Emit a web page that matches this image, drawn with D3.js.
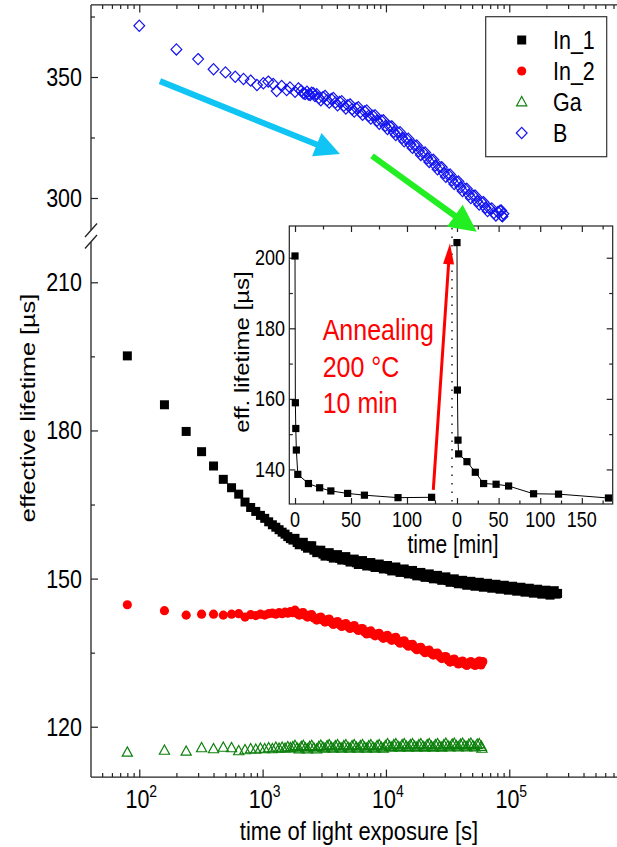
<!DOCTYPE html>
<html>
<head>
<meta charset="utf-8">
<script src="https://cdn.jsdelivr.net/npm/d3@7"></script>
<style>
  body { margin: 0; background: #fff; }
  svg { font-family: "Liberation Sans", Arial, sans-serif; }
</style>
</head>
<body>
<div id="chart"></div>
<script>
// ---- data: [time of light exposure (s), lifetime (us)] ----
const in1 = [[80,195.1],[160,185.2],[240,179.8],[320,175.7],[400,172.8],[480,170.1],[560,168.4],[640,167.1],[720,165.5],[800,164.4],[880,163.6],[960,162.8],[1040,162.2],[1120,161.5],[1200,160.9],[1280,160.4],[1360,159.9],[1440,159.4],[1520,159.0],[1600,158.5],[1680,158.1],[1760,157.8],
  [1831,158.15],[1904,157.3],[1981,156.85],[2060,157.3],[2138,157.35],[2223,156.55],[2313,156.15],[2405,156.6],[2502,156.65],[2602,155.75],[2747,155.25],[2857,155.7],[2965,155.75],[3084,154.95],[3207,154.55],[3335,155.1],[3468,155.25],[3607,154.5],[3745,154.15],[3895,154.7],[4051,154.85],[4213,154.1],[4380,153.75],[4555,154.3],[4730,154.45],[4919,153.7],[5114,153.35],[5318,153.85],[5533,153.95],[5754,153.2],[5973,152.85],[6212,153.45],[6460,153.65],[6718,152.9],[6986,152.55],[7265,153.1],[7541,153.25],[7843,152.55],[8155,152.25],[8481,152.8],[8821,152.95],[9174,152.25],[9526,151.95],[9907,152.5],[10300,152.65],[10710,151.9],[11140,151.55],[11590,152.15],[12030,152.35],[12510,151.6],[13010,151.25],[13530,151.8],[14070,151.95],[14630,151.25],[15190,150.95],[15800,151.5],[16430,151.65],[17090,150.9],[17780,150.55],[18490,151.1],[19190,151.25],[19960,150.55],[20760,150.25],[21590,150.8],[22450,150.95],[23350,150.25],[24240,149.95],[25210,150.5],[26220,150.65],[27270,149.95],[28360,149.65],[29490,150.2],[30610,150.35],[31830,149.6],[33110,149.25],[34430,149.8],[35810,149.95],[37240,149.25],[38660,148.95],[40210,149.5],[41810,149.65],[43480,148.95],[45220,148.65],[47030,149.25],[48830,149.45],[50780,148.75],[52800,148.45],[54910,149.05],[57110,149.25],[59390,148.55],[61660,148.25],[64130,148.85],[66690,149.05],[69360,148.35],[72130,148.05],[75020,148.65],[77880,148.85],[81000,148.15],[84230,147.85],[87600,148.45],[91100,148.65],[94740,147.95],[98330,147.65],[102300,148.25],[106400,148.45],[110700,147.75],[115000,147.45],[119600,148.05],[124200,148.25],[129200,147.55],[134300,147.25],[139700,147.85],[145300,148.05],[151100,147.35],[156900,147.05],[163200,147.65],[169600,147.85],[176400,147.15],[183500,146.85],[190800,147.45],[198100,147.65],[206000,146.95],[214200,146.65],[222800,147.3],[231700,147.55],[240000,146.85],[246400,147.0]];

const in2 = [[80,144.7],[160,143.5],[240,142.6],[320,142.8],[400,142.8],[480,142.6],[560,142.8],[640,142.9],[720,142.2],[800,142.7],[880,142.5],[960,142.8],[1040,142.6],[1120,142.9],[1200,143.0],[1280,142.8],[1360,143.1],[1440,142.9],[1520,143.2],[1600,143.0],[1680,143.3],[1760,143.1],
  [1831,143.6],[1904,142.95],[1981,142.6],[2060,143.0],[2138,143.1],[2223,142.5],[2313,142.2],[2405,142.6],[2502,142.7],[2602,142.0],[2747,141.6],[2857,142.05],[2965,142.2],[3084,141.55],[3207,141.2],[3335,141.65],[3468,141.8],[3607,141.1],[3745,140.7],[3895,141.15],[4051,141.3],[4213,140.65],[4380,140.3],[4555,140.75],[4730,140.9],[4919,140.25],[5114,139.9],[5318,140.35],[5533,140.5],[5754,139.85],[5973,139.5],[6212,139.85],[6460,139.9],[6718,139.2],[6986,138.8],[7265,139.25],[7541,139.4],[7843,138.75],[8155,138.4],[8481,138.8],[8821,138.9],[9174,138.25],[9526,137.9],[9907,138.35],[10300,138.5],[10710,137.85],[11140,137.5],[11590,137.95],[12030,138.1],[12510,137.35],[13010,136.9],[13530,137.3],[14070,137.4],[14630,136.7],[15190,136.3],[15800,136.65],[16430,136.7],[17090,136.0],[17780,135.6],[18490,136.0],[19190,136.1],[19960,135.4],[20760,135.0],[21590,135.4],[22450,135.5],[23350,134.85],[24240,134.5],[25210,134.85],[26220,134.9],[27270,134.2],[28360,133.8],[29490,134.15],[30610,134.2],[31830,133.5],[33110,133.1],[34430,133.55],[35810,133.7],[37240,133.05],[38660,132.7],[40210,133.15],[41810,133.3],[43480,132.7],[45220,132.4],[47030,132.95],[48830,133.2],[50780,132.65],[52800,132.4],[54910,133.0],[57110,133.3],[58500,132.6],[59000,132.5],[60000,132.9],[61000,133.2]];

const ga = [[80,114.8],[160,115.2],[240,115.0],[320,115.7],[400,115.5],[480,115.8],[560,115.7],[640,115.1],[720,115.3],[800,115.5],[880,115.4],[960,115.6],[1040,115.5],[1120,115.7],[1200,115.5],[1280,115.8],[1360,115.6],[1440,115.8],[1520,115.6],[1600,115.9],[1680,115.7],[1760,115.9],
  [1831,116.15],[1904,115.65],[1981,115.45],[2060,115.95],[2138,116.15],[2223,115.65],[2313,115.45],[2405,115.95],[2502,116.15],[2602,115.65],[2747,115.45],[2857,115.95],[2965,116.2],[3084,115.8],[3207,115.6],[3335,116.1],[3468,116.3],[3607,115.8],[3745,115.6],[3895,116.1],[4051,116.3],[4213,115.8],[4380,115.6],[4555,116.1],[4730,116.3],[4919,115.8],[5114,115.6],[5318,116.1],[5533,116.3],[5754,115.8],[5973,115.6],[6212,116.1],[6460,116.3],[6718,115.8],[6986,115.6],[7265,116.1],[7541,116.3],[7843,115.8],[8155,115.6],[8481,116.1],[8821,116.3],[9174,115.8],[9526,115.6],[9907,116.1],[10300,116.5],[10710,116.0],[11140,115.8],[11590,116.3],[12030,116.5],[12510,116.0],[13010,115.8],[13530,116.3],[14070,116.5],[14630,116.0],[15190,115.8],[15800,116.3],[16430,116.5],[17090,116.0],[17780,115.8],[18490,116.3],[19190,116.5],[19960,116.0],[20760,115.8],[21590,116.3],[22450,116.5],[23350,116.0],[24240,115.8],[25210,116.3],[26220,116.5],[27270,116.0],[28360,115.8],[29490,116.3],[30610,116.6],[31830,116.1],[33110,115.9],[34430,116.4],[35810,116.6],[37240,116.1],[38660,115.9],[40210,116.4],[41810,116.6],[43480,116.1],[45220,115.9],[47030,116.4],[48830,116.6],[50780,116.1],[52800,115.9],[54910,116.4],[57110,116.5],[59390,116.0],[60000,115.6]];

const bor = [[100,371.2],[200,361.4],[300,357.4],[400,353.2],[500,351.9],[600,350.1],[700,349.2],[800,348.5],[900,346.7],[1014,347.4],[1112,348.1],[1220,347.1],[1300,344.2],[1428,346.3],[1567,344.6],[1667,345.7],[1832,343.9],[1950,345.3],[2060,344.3],[2140,343.3],[2210,343.0],[2290,343.9],[2360,342.8],[2430,342.6],[2500,343.5],[2580,343.3],[2660,342.1],
  [2747,342.9],[2857,341.3],[2965,340.4],[3084,341.7],[3207,342.2],[3335,340.4],[3468,339.4],[3607,340.9],[3745,341.3],[3895,339.4],[4051,338.3],[4213,339.7],[4380,340.0],[4555,338.1],[4730,337.0],[4919,338.3],[5114,338.7],[5318,336.7],[5533,335.7],[5754,337.1],[5973,337.5],[6212,335.5],[6460,334.4],[6718,335.8],[6986,336.2],[7265,334.0],[7541,332.8],[7843,334.0],[8155,334.2],[8481,332.0],[8821,330.7],[9174,331.9],[9526,332.1],[9907,329.8],[10300,328.5],[10710,329.6],[11140,329.6],[11590,327.3],[12030,326.0],[12510,327.1],[13010,327.2],[13530,324.8],[14070,323.4],[14630,324.4],[15190,324.5],[15800,322.1],[16430,320.7],[17090,321.7],[17780,321.7],[18490,319.3],[19190,317.8],[19960,318.8],[20760,318.8],[21590,316.4],[22450,314.9],[23350,315.8],[24240,315.8],[25210,313.4],[26220,311.9],[27270,312.8],[28360,312.7],[29490,310.3],[30610,308.8],[31830,309.7],[33110,309.7],[34430,307.3],[35810,305.8],[37240,306.8],[38660,306.8],[40210,304.4],[41810,302.9],[43480,303.8],[45220,303.8],[47030,301.4],[48830,300.0],[50780,301.0],[52800,301.0],[54910,298.7],[57110,297.3],[59390,298.3],[61660,298.3],[64130,296.0],[66690,294.6],[69360,295.6],[72130,295.7],[75020,293.8],[77880,292.8],[81000,294.2],[84230,294.7],[86000,294.8],[87000,292.7],[88000,292.4],[89570,293.5]];

// inset: [time (min), eff. lifetime (us)] before and after the 200 °C anneal
const insetBefore = [[0,200.5],[0.3,158.9],[0.7,151.6],[1.2,145.5],[2.5,138.6],[12,136.0],[22,134.8],[32,133.9],[47,133.2],[62,132.7],[92,132.0],[122,132.1]];
const insetAfter = [[0,204.3],[0.5,162.5],[1.2,148.3],[2,144.4],[12,142.2],[22,139.2],[32,136.0],[47,135.8],[62,135.3],[92,133.1],[122,133.0],[182,131.9]];

// ticks / labels
const xMajor = [1e2, 1e3, 1e4, 1e5];
const upperMajor = [300, 350], upperMinor = [325, 375];
const lowerMajor = [120, 150, 180, 210], lowerMinor = [135, 165, 195];
const insetYMajor = [140, 160, 180, 200], insetYMinor = [150, 170, 190];
const insetLeftMajor = [0, 50, 100], insetLeftMinor = [25, 75, 125];
const insetRightMajor = [0, 50, 100, 150], insetRightMinor = [25, 75, 125, 175];
const legendNames = ["In_1", "In_2", "Ga", "B"];
const annealLines = ["Annealing", "200 \u00B0C", "10 min"];

const W = 617, H = 847;
const SY = 1.2; // the figure's glyphs are a bit taller than wide

const svg = d3.select("#chart").append("svg").attr("width", W).attr("height", H);

// main scales (broken y axis)
const x = d3.scaleLog().domain([40.6, 1e6]).range([91, 632.6]);
const yUp = d3.scaleLinear().domain([286.4, 379.8]).range([230.9, 4.9]);
const yLow = d3.scaleLinear().domain([109.8, 218]).range([777.1, 242.8]);

// inset scales (two time segments)
const xInL = d3.scaleLinear().domain([-5.1, 140.2]).range([289.3, 452]);
const xInR = d3.scaleLinear().domain([-6, 187.1]).range([452, 612.7]);
const yIn = d3.scaleLinear().domain([130.2, 209]).range([504, 226]);

function addText(parent, px, py, str, size, anchor, opts = {}) {
    const t = parent.append("text")
        .attr("transform", opts.rotate
            ? `translate(${px},${py}) rotate(-90) scale(${SY},1)`
            : `translate(${px},${py}) scale(1,${SY})`)
        .attr("text-anchor", anchor)
        .attr("font-size", size)
        .attr("fill", opts.color || "#000");
    if (str != null) t.text(str);
    return t;
}

function ticks(parent, axisFn, scale, values, size, transform) {
    parent.append("g")
        .attr("transform", transform)
        .call(axisFn(scale).tickValues(values).tickSize(size).tickSizeOuter(0).tickFormat(""))
        .call(g => g.select(".domain").remove())
        .call(g => g.selectAll("line").attr("stroke", "#222").attr("stroke-width", 1.2));
}

const shapes = {
    square: d3.symbol(d3.symbolSquare, 81)(),
    circle: d3.symbol(d3.symbolCircle, 66)(),
    triangle: "M0,-5.5L5.1,3.8L-5.1,3.8Z",
    diamond: "M0,-5.6L5.4,0L0,5.6L-5.4,0Z",
    smallSquare: d3.symbol(d3.symbolSquare, 52)()
};

function drawSeries(parent, data, xs, ys, shape, color, filled) {
    parent.append("g").selectAll("path")
        .data(data)
        .join("path")
        .attr("transform", d => `translate(${xs(d[0])},${ys(d[1])})`)
        .attr("d", shapes[shape])
        .attr("fill", filled ? color : "none")
        .attr("stroke", color)
        .attr("stroke-width", filled ? 0 : 1.2);
}

// ---------- main frame & axes ----------
const frame = svg.append("g").attr("stroke", "#222").attr("stroke-width", 1.3).attr("fill", "none");
frame.append("line").attr("x1", 91).attr("x2", W).attr("y1", yUp.range()[1]).attr("y2", yUp.range()[1]);
frame.append("line").attr("x1", 91).attr("x2", W).attr("y1", yLow.range()[0]).attr("y2", yLow.range()[0]);
frame.append("line").attr("x1", 91).attr("x2", 91).attr("y1", yUp.range()[1]).attr("y2", 230);
frame.append("line").attr("x1", 91).attr("x2", 91).attr("y1", 242).attr("y2", yLow.range()[0]);
// break marks
frame.append("line").attr("x1", 85).attr("y1", 237).attr("x2", 97).attr("y2", 223.5);
frame.append("line").attr("x1", 85).attr("y1", 248.5).attr("x2", 97).attr("y2", 235);

// log minor ticks
const xMinor = [];
for (let e = 1; e <= 5; e++) for (let k = 2; k <= 9; k++) {
    const v = k * Math.pow(10, e);
    if (v > x.domain()[0] && v < 7.5e5) xMinor.push(v);
}
ticks(svg, d3.axisBottom, x, xMajor, -7.5, `translate(0,${yLow.range()[0]})`);
ticks(svg, d3.axisBottom, x, xMinor, -4, `translate(0,${yLow.range()[0]})`);
ticks(svg, d3.axisTop, x, xMajor, -7.5, `translate(0,${yUp.range()[1]})`);
ticks(svg, d3.axisTop, x, xMinor, -4, `translate(0,${yUp.range()[1]})`);
ticks(svg, d3.axisLeft, yUp, upperMajor, -7, "translate(91,0)");
ticks(svg, d3.axisLeft, yUp, upperMinor, -4, "translate(91,0)");
ticks(svg, d3.axisLeft, yLow, lowerMajor, -7, "translate(91,0)");
ticks(svg, d3.axisLeft, yLow, lowerMinor, -4, "translate(91,0)");

upperMajor.forEach(v => addText(svg, 82, yUp(v) + 9, v, 21.5, "end"));
lowerMajor.forEach(v => addText(svg, 82, yLow(v) + 9, v, 21.5, "end"));
xMajor.forEach(v => {
    const t = addText(svg, x(v) + 2, 808, null, 21.5, "middle");
    t.append("tspan").text("10");
    t.append("tspan").attr("font-size", 14).attr("dy", -9).text(Math.round(Math.log10(v)));
});
addText(svg, 359, 840, "time of light exposure [s]", 22, "middle");
addText(svg, 35, 408, "effective lifetime [\u00B5s]", 21, "middle", { rotate: true });

// ---------- main series ----------
drawSeries(svg, bor, x, yUp, "diamond", "#1414f0", false);
drawSeries(svg, in1, x, yLow, "square", "#000", true);
drawSeries(svg, in2, x, yLow, "circle", "#ff0000", true);
drawSeries(svg, ga, x, yLow, "triangle", "#0c800c", false);

// ---------- inset ----------
const inset = svg.append("g");
inset.append("rect").attr("x", 289.3).attr("y", 226).attr("width", 612.7 - 289.3).attr("height", 278)
    .attr("fill", "#fff").attr("stroke", "#222").attr("stroke-width", 1.2);

ticks(inset, d3.axisLeft, yIn, insetYMajor, -6, "translate(289.3,0)");
ticks(inset, d3.axisLeft, yIn, insetYMinor, -3.5, "translate(289.3,0)");
ticks(inset, d3.axisRight, yIn, insetYMajor, -6, "translate(612.7,0)");
ticks(inset, d3.axisRight, yIn, insetYMinor, -3.5, "translate(612.7,0)");
[[xInL, insetLeftMajor, insetLeftMinor], [xInR, insetRightMajor, insetRightMinor]].forEach(([s, maj, min]) => {
    ticks(inset, d3.axisBottom, s, maj, -6, "translate(0,504)");
    ticks(inset, d3.axisBottom, s, min, -3.5, "translate(0,504)");
    ticks(inset, d3.axisTop, s, maj, -6, "translate(0,226)");
    ticks(inset, d3.axisTop, s, min, -3.5, "translate(0,226)");
    maj.forEach(v => addText(inset, s(v), 527, v, 18, "middle"));
});
insetYMajor.forEach(v => addText(inset, 285, yIn(v) + 7.5, v, 18, "end"));
addText(inset, 453, 553, "time [min]", 21, "middle");
addText(inset, 249, 352, "eff. lifetime [\u00B5s]", 20, "middle", { rotate: true });

inset.append("line").attr("x1", 452).attr("x2", 452).attr("y1", 228).attr("y2", 503)
    .attr("stroke", "#000").attr("stroke-width", 1.3).attr("stroke-dasharray", "1.5,7");

[[insetBefore, xInL], [insetAfter, xInR]].forEach(([data, xs]) => {
    inset.append("path").datum(data)
        .attr("d", d3.line().x(d => xs(d[0])).y(d => yIn(d[1])))
        .attr("fill", "none").attr("stroke", "#000").attr("stroke-width", 1);
    drawSeries(inset, data, xs, yIn, "smallSquare", "#000", true);
});

// ---------- annotations (data coordinates) ----------
const arrows = [
    { from: [147, 348.3], to: [4237, 318.2], xs: x, ys: yUp, color: "#10c4f4", w: 6, hl: 25, hw: 25 },
    { from: [7710, 317.4], to: [54450, 286.1], xs: x, ys: yUp, color: "#22ee22", w: 6, hl: 27, hw: 27 },
    { from: [123.5, 134.2], to: [138.4, 204.1], xs: xInL, ys: yIn, color: "#ff0000", w: 3, hl: 21, hw: 11 }
];
arrows.forEach(a => {
    const x0 = a.xs(a.from[0]), y0 = a.ys(a.from[1]);
    const x1 = a.xs(a.to[0]), y1 = a.ys(a.to[1]);
    const len = Math.hypot(x1 - x0, y1 - y0);
    const ux = (x1 - x0) / len, uy = (y1 - y0) / len, nx = -uy, ny = ux;
    const bx = x1 - ux * a.hl, by = y1 - uy * a.hl;
    const p = d3.path();
    p.moveTo(x0 + nx * a.w / 2, y0 + ny * a.w / 2);
    p.lineTo(bx + nx * a.w / 2, by + ny * a.w / 2);
    p.lineTo(bx + nx * a.hw / 2, by + ny * a.hw / 2);
    p.lineTo(x1, y1);
    p.lineTo(bx - nx * a.hw / 2, by - ny * a.hw / 2);
    p.lineTo(bx - nx * a.w / 2, by - ny * a.w / 2);
    p.lineTo(x0 - nx * a.w / 2, y0 - ny * a.w / 2);
    p.closePath();
    svg.append("path").attr("d", p.toString()).attr("fill", a.color);
});

annealLines.forEach((s, i) => addText(svg, 322.7, 340 + i * 36.7, s, 25, "start", { color: "#ff0000" }));

// ---------- legend ----------
const legend = svg.append("g");
legend.append("rect").attr("x", 485.7).attr("y", 16.7).attr("width", 121).attr("height", 140)
    .attr("fill", "#fff").attr("stroke", "#333").attr("stroke-width", 1.2);
const legendStyle = [["square", "#000", true], ["circle", "#ff0000", true], ["triangle", "#0c800c", false], ["diamond", "#1414f0", false]];
legendNames.forEach((name, i) => {
    const cy = 40 + i * 31;
    const [shape, color, filled] = legendStyle[i];
    legend.append("path").attr("transform", `translate(521.7,${cy})`).attr("d", shapes[shape])
        .attr("fill", filled ? color : "none").attr("stroke", color).attr("stroke-width", filled ? 0 : 1.2);
    addText(legend, 553, cy + 8.5, name, 21.5, "start");
});
</script>
</body>
</html>
